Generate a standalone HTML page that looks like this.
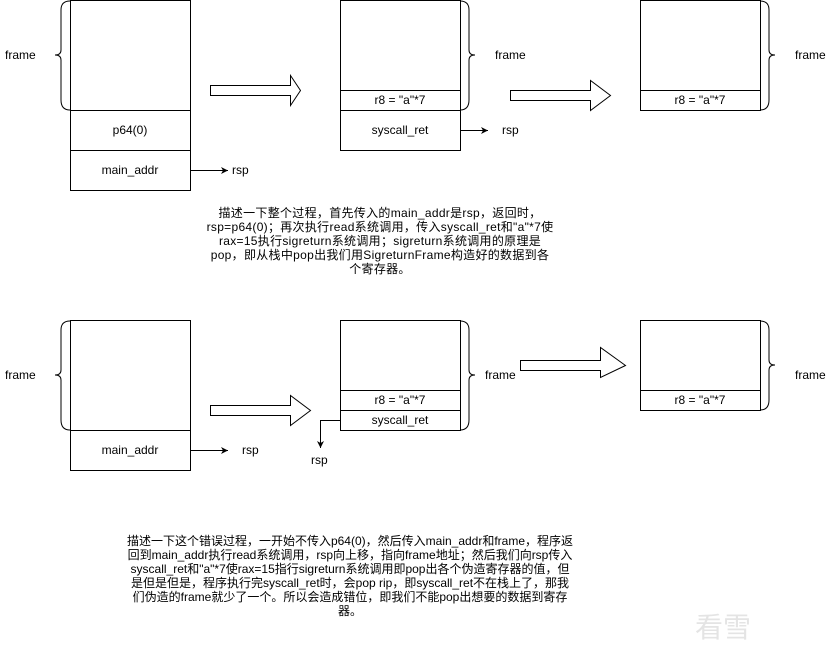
<!DOCTYPE html>
<html><head><meta charset="utf-8"><style>
html,body{margin:0;padding:0;background:#fff;width:831px;height:671px;overflow:hidden}
svg{display:block}
text{font-family:"Liberation Sans","Noto Sans CJK SC",sans-serif;font-size:12px;fill:#000}
.t{text-anchor:middle}
.w{letter-spacing:0.3px}
</style></head><body>
<svg width="831" height="671" viewBox="0 0 831 671" xmlns="http://www.w3.org/2000/svg">
<defs><marker id="a" markerWidth="8" markerHeight="8" refX="7" refY="4" orient="auto" markerUnits="userSpaceOnUse"><path d="M0,0.5 L7,4 L0,7.5 L2,4Z" fill="#000"/></marker></defs>
<g fill="none" stroke="#000" stroke-width="1">
<rect x="70.5" y="0.5" width="120" height="190"/>
<line x1="70" y1="110.5" x2="190" y2="110.5"/><line x1="70" y1="150.5" x2="190" y2="150.5"/>
<path d="M70,1 Q61,1 61,10 L61,50 Q61,55 55,55 Q61,55 61,60 L61,100 Q61,110 70,110"/>
<line x1="190" y1="170.5" x2="228" y2="170.5" marker-end="url(#a)"/>
<path d="M210.5,85.5 L290.5,85.5 L290.5,75.5 L300.5,90.5 L290.5,105.5 L290.5,95.5 L210.5,95.5Z"/>
<rect x="340.5" y="0.5" width="120" height="150"/>
<line x1="340" y1="90.5" x2="460" y2="90.5"/><line x1="340" y1="110.5" x2="460" y2="110.5"/>
<path d="M460,1 Q469,1 469,10 L469,50 Q469,55 475,55 Q469,55 469,60 L469,100 Q469,110 460,110"/>
<line x1="460" y1="130.5" x2="488" y2="130.5" marker-end="url(#a)"/>
<path d="M510.5,90.5 L590.5,90.5 L590.5,80.5 L610.5,95.5 L590.5,110.5 L590.5,100.5 L510.5,100.5Z"/>
<rect x="640.5" y="0.5" width="120" height="110"/>
<line x1="640" y1="90.5" x2="760" y2="90.5"/>
<path d="M760,1 Q769,1 769,10 L769,50 Q769,55 775,55 Q769,55 769,60 L769,100 Q769,110 760,110"/>
<rect x="70.5" y="320.5" width="120" height="150"/>
<line x1="70" y1="430.5" x2="190" y2="430.5"/>
<path d="M70,321 Q61,321 61,330 L61,370 Q61,375 55,375 Q61,375 61,380 L61,420 Q61,430 70,430"/>
<line x1="190" y1="450.5" x2="228" y2="450.5" marker-end="url(#a)"/>
<path d="M210.5,405.5 L290.5,405.5 L290.5,395.5 L310.5,410.5 L290.5,425.5 L290.5,415.5 L210.5,415.5Z"/>
<rect x="340.5" y="320.5" width="120" height="110"/>
<line x1="340" y1="390.5" x2="460" y2="390.5"/><line x1="340" y1="410.5" x2="460" y2="410.5"/>
<path d="M460,321 Q469,321 469,330 L469,370 Q469,375 475,375 Q469,375 469,380 L469,420 Q469,430 460,430"/>
<path d="M340,420.5 L320.5,420.5 L320.5,448" marker-end="url(#a)"/>
<path d="M520.5,360.5 L600.5,360.5 L600.5,347.5 L625.5,365.5 L600.5,377.5 L600.5,370.5 L520.5,370.5Z"/>
<rect x="640.5" y="320.5" width="120" height="90"/>
<line x1="640" y1="390.5" x2="760" y2="390.5"/>
<path d="M760,321 Q769,321 769,330 L769,360 Q769,365 775,365 Q769,365 769,370 L769,400 Q769,410 760,410"/>
</g>
<text x="5" y="59">frame</text>
<text class="t" x="130" y="134">p64(0)</text>
<text class="t" x="130" y="174">main_addr</text>
<text x="232" y="174">rsp</text>
<text x="495" y="59">frame</text>
<text class="t" x="400" y="104">r8 = "a"*7</text>
<text class="t" x="400" y="134">syscall_ret</text>
<text x="502" y="134">rsp</text>
<text x="795" y="59">frame</text>
<text class="t" x="700" y="104">r8 = "a"*7</text>
<text class="t w" x="380" y="217">描述一下整个过程，首先传入的main_addr是rsp，返回时，</text>
<text class="t w" x="380" y="231">rsp=p64(0)；再次执行read系统调用，传入syscall_ret和"a"*7使</text>
<text class="t w" x="380" y="245">rax=15执行sigreturn系统调用；sigreturn系统调用的原理是</text>
<text class="t w" x="380" y="259">pop，即从栈中pop出我们用SigreturnFrame构造好的数据到各</text>
<text class="t w" x="380" y="273">个寄存器。</text>
<text x="5" y="379">frame</text>
<text class="t" x="130" y="454">main_addr</text>
<text x="242" y="454">rsp</text>
<text x="485" y="379">frame</text>
<text class="t" x="400" y="404">r8 = "a"*7</text>
<text class="t" x="400" y="424">syscall_ret</text>
<text x="311" y="464">rsp</text>
<text x="795" y="379">frame</text>
<text class="t" x="700" y="404">r8 = "a"*7</text>
<text class="t" x="350" y="545">描述一下这个错误过程，一开始不传入p64(0)，然后传入main_addr和frame，程序返</text>
<text class="t" x="350" y="559">回到main_addr执行read系统调用，rsp向上移，指向frame地址；然后我们向rsp传入</text>
<text class="t" x="350" y="573">syscall_ret和"a"*7使rax=15指行sigreturn系统调用即pop出各个伪造寄存器的值，但</text>
<text class="t" x="350" y="587">是但是但是，程序执行完syscall_ret时，会pop rip，即syscall_ret不在栈上了，那我</text>
<text class="t" x="350" y="601">们伪造的frame就少了一个。所以会造成错位，即我们不能pop出想要的数据到寄存</text>
<text class="t" x="350" y="615">器。</text>
<text x="695" y="637" style="font-size:28px;fill:#e4e4e4">看雪</text>
</svg>
</body></html>
